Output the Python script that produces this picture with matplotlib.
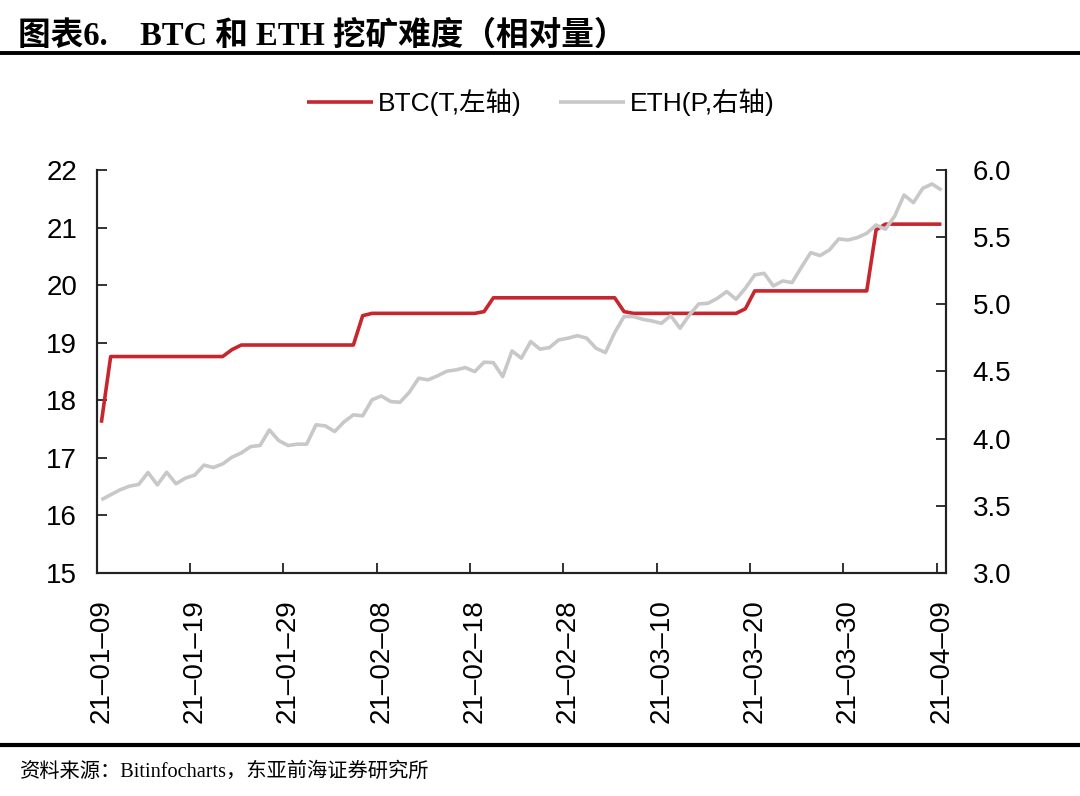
import pandas as pd
import matplotlib
matplotlib.use("Agg")
import matplotlib.pyplot as plt
from matplotlib.lines import Line2D
from matplotlib.ticker import FixedLocator, NullFormatter

plt.rcParams['font.family'] = ['Liberation Sans', 'Noto Sans CJK SC']

# date giornaliere 2021-01-09 .. 2021-04-09
date = pd.date_range('2021-01-09', '2021-04-09', freq='D')

# BTC difficoltà (T, asse sinistro)
btc = [17.61, 18.76, 18.76, 18.76, 18.76, 18.76, 18.76, 18.76, 18.76, 18.76,
       18.76, 18.76, 18.76, 18.76, 18.88, 18.96, 18.96, 18.96, 18.96, 18.96,
       18.96, 18.96, 18.96, 18.96, 18.96, 18.96, 18.96, 18.96, 19.47, 19.51,
       19.51, 19.51, 19.51, 19.51, 19.51, 19.51, 19.51, 19.51, 19.51, 19.51,
       19.51, 19.54, 19.78, 19.78, 19.78, 19.78, 19.78, 19.78, 19.78, 19.78,
       19.78, 19.78, 19.78, 19.78, 19.78, 19.78, 19.54, 19.51, 19.51, 19.51,
       19.51, 19.51, 19.51, 19.51, 19.51, 19.51, 19.51, 19.51, 19.51, 19.59,
       19.90, 19.90, 19.90, 19.90, 19.90, 19.90, 19.90, 19.90, 19.90, 19.90,
       19.90, 19.90, 19.90, 20.96, 21.06, 21.06, 21.06, 21.06, 21.06, 21.06,
       21.06]

# ETH difficoltà (P, asse destro)
eth = [3.545, 3.582, 3.619, 3.646, 3.659, 3.748, 3.656, 3.750, 3.664, 3.706,
       3.728, 3.803, 3.785, 3.812, 3.862, 3.894, 3.941, 3.949, 4.065, 3.986,
       3.949, 3.959, 3.959, 4.103, 4.095, 4.053, 4.125, 4.177, 4.170, 4.289,
       4.318, 4.276, 4.271, 4.346, 4.450, 4.438, 4.467, 4.502, 4.512, 4.529,
       4.499, 4.569, 4.566, 4.462, 4.653, 4.599, 4.723, 4.666, 4.678, 4.735,
       4.748, 4.767, 4.748, 4.673, 4.641, 4.790, 4.909, 4.909, 4.889, 4.876,
       4.859, 4.916, 4.822, 4.921, 5.003, 5.008, 5.045, 5.095, 5.038, 5.120,
       5.219, 5.231, 5.137, 5.174, 5.162, 5.276, 5.385, 5.363, 5.405, 5.487,
       5.479, 5.497, 5.529, 5.591, 5.559, 5.658, 5.814, 5.757, 5.864, 5.896,
       5.851]

etichette = ['BTC(T,左轴)', 'ETH(P,右轴)']
rosso = '#C8262F'
grigio = '#C8C8C8'

x = list(range(len(date)))

fig = plt.figure(figsize=(10.8, 7.96), dpi=100)
ax = fig.add_axes([0.0895, 0.2802, 0.7865, 0.5062])
ax2 = ax.twinx()

l1, = ax.plot(x, btc, color=rosso, lw=2.6, solid_capstyle='butt')
l2, = ax2.plot(x, eth, color=grigio, lw=2.6, solid_capstyle='butt')

ax.set_xlim(-0.5, len(date) - 0.5)
ax.set_ylim(15, 22)
ax.set_yticks(range(15, 23))
ax2.set_ylim(3.0, 6.0)
ax2.set_yticks([3.0, 3.5, 4.0, 4.5, 5.0, 5.5, 6.0])
ax2.set_yticklabels([f'{v:.1f}' for v in ax2.get_yticks()])

# tacche ai confini delle categorie, etichette al centro
ax.xaxis.set_major_locator(FixedLocator([i - 0.5 for i in x[::10]]))
ax.xaxis.set_major_formatter(NullFormatter())
ax.set_xticks(x[::10], minor=True)
ax.set_xticklabels([d.strftime('%y–%m–%d') for d in date[::10]], minor=True, rotation=90)
ax.tick_params(axis='x', which='minor', length=0, pad=19, labelsize=20)
ax.tick_params(axis='x', which='major', direction='in', length=7, width=1.3, color='#222222')
ax.tick_params(axis='y', direction='in', length=7, width=1.3, color='#222222', pad=14, labelsize=20)
ax2.tick_params(axis='y', direction='in', length=7, width=1.3, color='#222222', pad=19, labelsize=20)

for a in (ax, ax2):
    a.spines['top'].set_visible(False)
    for s in ('left', 'right', 'bottom'):
        a.spines[s].set_linewidth(1.5)
        a.spines[s].set_color('#222222')

fig.legend([l1, l2], etichette, loc='center', bbox_to_anchor=(0.501, 0.871), ncol=2,
           frameon=False, fontsize=19, handlelength=2.5, handletextpad=0.2,
           columnspacing=1.4)

# titolo e fonte
fig.text(0.017, 0.955, '图表6.    BTC 和 ETH 挖矿难度（相对量）', fontsize=23.5, weight='bold',
         family=['Liberation Serif', 'Noto Sans CJK SC'], va='center', ha='left')
fig.add_artist(Line2D([0, 1], [0.9334, 0.9334], color='black', lw=2.8))
fig.add_artist(Line2D([0, 1], [0.064, 0.064], color='black', lw=3.0))
fig.text(0.0185, 0.030, '资料来源：Bitinfocharts，东亚前海证券研究所', fontsize=14.6,
         family=['Liberation Serif', 'Noto Sans CJK SC'], va='center', ha='left')

fig.savefig('out.png', dpi=100)
